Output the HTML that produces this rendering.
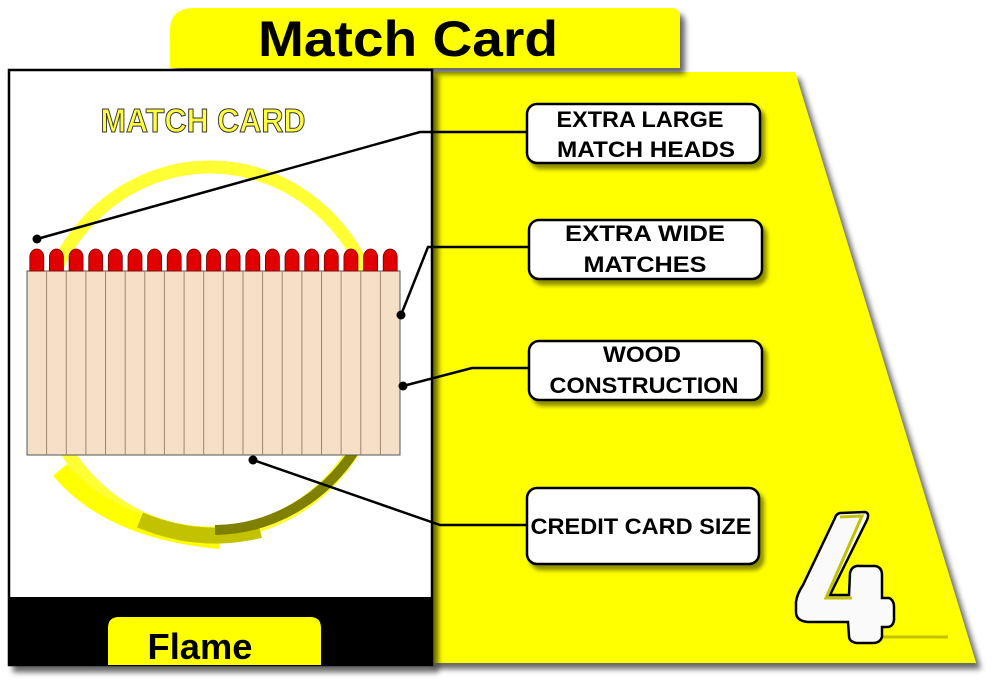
<!DOCTYPE html>
<html><head><meta charset="utf-8"><style>
html,body{margin:0;padding:0;background:#fff;width:999px;height:689px;overflow:hidden}
text{font-family:"Liberation Sans","DejaVu Sans",sans-serif;font-weight:bold}
</style></head><body>
<svg width="999" height="689" viewBox="0 0 999 689" xmlns="http://www.w3.org/2000/svg">
<defs>
<filter id="sh" x="-10%" y="-10%" width="130%" height="130%"><feGaussianBlur in="SourceAlpha" stdDeviation="3"/><feOffset dx="5" dy="6"/><feComponentTransfer><feFuncA type="linear" slope="0.6"/></feComponentTransfer><feMerge><feMergeNode/><feMergeNode in="SourceGraphic"/></feMerge></filter>
<filter id="sh2" x="-10%" y="-10%" width="130%" height="140%"><feGaussianBlur in="SourceAlpha" stdDeviation="2"/><feOffset dx="4" dy="5"/><feComponentTransfer><feFuncA type="linear" slope="0.45"/></feComponentTransfer><feMerge><feMergeNode/><feMergeNode in="SourceGraphic"/></feMerge></filter>
</defs>
<polygon points="430,72 795,72 976,663 430,663" fill="#ffff00" filter="url(#sh)"/>
<path d="M170,68 V30 Q170,8 195,8 H672 Q680,8 680,18 V68 Z" fill="#ffff00" filter="url(#sh)"/>
<text x="408" y="56" font-size="50" text-anchor="middle" fill="#000" textLength="300" lengthAdjust="spacingAndGlyphs">Match Card</text>
<rect x="9" y="70" width="423" height="595" fill="#fff" stroke="#000" stroke-width="2.5" filter="url(#sh)"/>
<rect x="9" y="597" width="423" height="68" fill="#000"/>
<path d="M108,665 V628 Q108,617 119,617 H310 Q321,617 321,628 V665 Z" fill="#ffff00"/>
<text x="200" y="659" font-size="36" text-anchor="middle" fill="#000" textLength="105" lengthAdjust="spacingAndGlyphs">Flame</text>
<text x="203" y="132" font-size="33" text-anchor="middle" fill="#ffff40" stroke="#333" stroke-width="1" font-weight="normal" textLength="205" lengthAdjust="spacingAndGlyphs">MATCH CARD</text>
<ellipse cx="210" cy="350" rx="172" ry="183" fill="none" stroke="#ffff33" stroke-width="13"/>
<path d="M60,470 Q110,530 220,540" fill="none" stroke="#ffff00" stroke-width="18"/>
<path d="M140,520 Q200,545 260,530" fill="none" stroke="#c2c200" stroke-width="16"/>
<path d="M215,530 A172,183 0 0 0 355,450" fill="none" stroke="#808000" stroke-width="10"/>
<rect x="27" y="271" width="373" height="184" fill="#f6dfc7" stroke="#555" stroke-width="1"/>
<g stroke="#9c8670" stroke-width="1">
<line x1="46.6" y1="271" x2="46.6" y2="455"/><line x1="66.3" y1="271" x2="66.3" y2="455"/><line x1="85.9" y1="271" x2="85.9" y2="455"/><line x1="105.5" y1="271" x2="105.5" y2="455"/><line x1="125.2" y1="271" x2="125.2" y2="455"/><line x1="144.8" y1="271" x2="144.8" y2="455"/><line x1="164.4" y1="271" x2="164.4" y2="455"/><line x1="184.1" y1="271" x2="184.1" y2="455"/><line x1="203.7" y1="271" x2="203.7" y2="455"/><line x1="223.3" y1="271" x2="223.3" y2="455"/><line x1="243" y1="271" x2="243" y2="455"/><line x1="262.6" y1="271" x2="262.6" y2="455"/><line x1="282.2" y1="271" x2="282.2" y2="455"/><line x1="301.9" y1="271" x2="301.9" y2="455"/><line x1="321.5" y1="271" x2="321.5" y2="455"/><line x1="341.1" y1="271" x2="341.1" y2="455"/><line x1="360.8" y1="271" x2="360.8" y2="455"/><line x1="380.4" y1="271" x2="380.4" y2="455"/>
</g>
<g fill="#e00000" stroke="#700" stroke-width="0.8">
<path d="M29.8,271 V257 a7,8 0 0 1 14,0 V271 Z"/>
<path d="M49.4,271 V257 a7,8 0 0 1 14,0 V271 Z"/>
<path d="M69.1,271 V257 a7,8 0 0 1 14,0 V271 Z"/>
<path d="M88.7,271 V257 a7,8 0 0 1 14,0 V271 Z"/>
<path d="M108.3,271 V257 a7,8 0 0 1 14,0 V271 Z"/>
<path d="M128,271 V257 a7,8 0 0 1 14,0 V271 Z"/>
<path d="M147.6,271 V257 a7,8 0 0 1 14,0 V271 Z"/>
<path d="M167.2,271 V257 a7,8 0 0 1 14,0 V271 Z"/>
<path d="M186.9,271 V257 a7,8 0 0 1 14,0 V271 Z"/>
<path d="M206.5,271 V257 a7,8 0 0 1 14,0 V271 Z"/>
<path d="M226.1,271 V257 a7,8 0 0 1 14,0 V271 Z"/>
<path d="M245.8,271 V257 a7,8 0 0 1 14,0 V271 Z"/>
<path d="M265.4,271 V257 a7,8 0 0 1 14,0 V271 Z"/>
<path d="M285,271 V257 a7,8 0 0 1 14,0 V271 Z"/>
<path d="M304.7,271 V257 a7,8 0 0 1 14,0 V271 Z"/>
<path d="M324.3,271 V257 a7,8 0 0 1 14,0 V271 Z"/>
<path d="M343.9,271 V257 a7,8 0 0 1 14,0 V271 Z"/>
<path d="M363.6,271 V257 a7,8 0 0 1 14,0 V271 Z"/>
<path d="M383.2,271 V257 a7,8 0 0 1 14,0 V271 Z"/>
</g>
<g stroke="#000" stroke-width="2.5" fill="none">
<polyline points="37,239 420,132 527,132"/>
<polyline points="401,315 428,247 529,247"/>
<polyline points="403,386 472,368 529,368"/>
<polyline points="253,460 440,525 527,525"/>
</g>
<g fill="#000"><circle cx="37" cy="239" r="4.5"/><circle cx="401" cy="315" r="4.5"/><circle cx="403" cy="386" r="4.5"/><circle cx="253" cy="460" r="4.5"/></g>
<g fill="#fff" stroke="#000" stroke-width="2.5" filter="url(#sh2)">
<rect x="527" y="104" width="233" height="59" rx="10"/>
<rect x="529" y="220" width="233" height="59" rx="10"/>
<rect x="529" y="341" width="233" height="59" rx="10"/>
<rect x="527" y="488" width="232" height="76" rx="10"/>
</g>
<g font-size="22" text-anchor="middle" fill="#000" lengthAdjust="spacingAndGlyphs">
<text x="640" y="127" textLength="167" lengthAdjust="spacingAndGlyphs">EXTRA LARGE</text><text x="646" y="157" textLength="178" lengthAdjust="spacingAndGlyphs">MATCH HEADS</text>
<text x="645" y="241" textLength="160" lengthAdjust="spacingAndGlyphs">EXTRA WIDE</text><text x="645" y="272" textLength="123" lengthAdjust="spacingAndGlyphs">MATCHES</text>
<text x="642" y="362" textLength="78" lengthAdjust="spacingAndGlyphs">WOOD</text><text x="644" y="393" textLength="189" lengthAdjust="spacingAndGlyphs">CONSTRUCTION</text>
<text x="641" y="534" textLength="221" lengthAdjust="spacingAndGlyphs">CREDIT CARD SIZE</text>
</g>
<line x1="880" y1="637" x2="948" y2="637" stroke="#c2c200" stroke-width="3"/>
<path d="M840,513 L865,512 Q870,513 867,520 L830,595 L849,595 L850,573 Q852,565 860,566 L875,566 Q882,567 882,575 L882,598 L889,598 Q894,600 894,607 L894,620 Q893,627 887,627 L882,627 L882,637 Q880,643 873,643 L857,643 Q849,642 849,636 L848,622 L808,622 Q796,621 796,612 L796,602 Q797,594 803,585 L835,518 Q836,514 840,513 Z" fill="#fafafa" stroke="#000" stroke-width="2.5"/>
<path d="M840,517 L862,516 L826,598 L852,598" fill="none" stroke="#c2c200" stroke-width="3"/>
</svg>
</body></html>
